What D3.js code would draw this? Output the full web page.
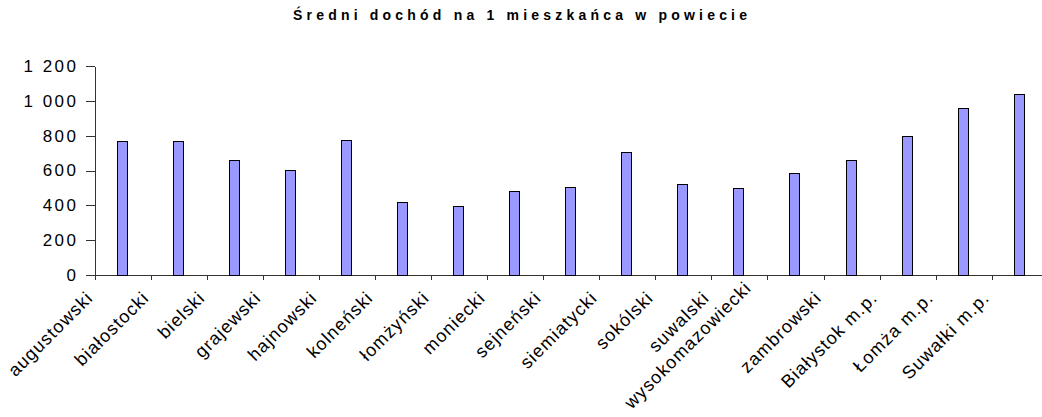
<!DOCTYPE html>
<meta charset="utf-8">
<style>
  body { margin: 0; background: #fff; }
  text { font-family: "Liberation Sans", Arial, sans-serif; fill: #000; }
  .bar { fill: #9999ff; stroke: #000; stroke-width: 1; }
  .axis path, .axis line { stroke: #333; shape-rendering: crispEdges; }
</style>
<svg width="1042" height="417"></svg>
<script src="https://cdnjs.cloudflare.com/ajax/libs/d3/7.8.5/d3.min.js"></script>
<script>

// dane
var powiaty = ["augustowski", "białostocki", "bielski", "grajewski", "hajnowski",
  "kolneński", "łomżyński", "moniecki", "sejneński", "siemiatycki", "sokólski",
  "suwalski", "wysokomazowiecki", "zambrowski", "Białystok m.p.", "Łomża m.p.", "Suwałki m.p."];
var dochod = [769, 769, 662, 601, 777, 421, 398, 484, 507, 708, 522, 501, 584, 662, 800, 960, 1039];
var yTicks = [0, 200, 400, 600, 800, 1000, 1200];
var tytul = "Średni dochód na 1 mieszkańca w powiecie";

var svg = d3.select("svg");

var axisX = 95, top0 = 66, base = 275, step = 56.04;

var x = d3.scaleBand()
    .domain(powiaty)
    .range([axisX, axisX + step * powiaty.length]);

var y = d3.scaleLinear()
    .domain([0, 1200])
    .range([base, top0]);

var pl = d3.formatLocale({decimal: ",", thousands: " ", grouping: [3], currency: ["", ""]});
var fmt = pl.format(",d");

// tytuł
svg.append("text")
    .attr("x", 520)
    .attr("y", 20)
    .attr("text-anchor", "middle")
    .attr("textLength", 454)
    .attr("lengthAdjust", "spacing")
    .style("font-size", "14px")
    .style("font-weight", "bold")
    .text(tytul);

// oś Y
var yAxis = svg.append("g")
    .attr("class", "axis")
    .attr("transform", "translate(" + axisX + ",0)")
    .call(d3.axisLeft(y).tickValues(yTicks).tickFormat(fmt).tickSize(9).tickPadding(10).tickSizeOuter(0));
yAxis.selectAll("text")
    .style("font-size", "17px")
    .style("letter-spacing", "2.5px")
    .attr("dx", "2.5px");

// oś X
var xAxis = svg.append("g").attr("class", "axis");
xAxis.append("path")
    .attr("d", "M" + x.range()[0] + "," + base + "H" + x.range()[1]);
xAxis.selectAll(".xt")
    .data(powiaty)
  .enter().append("line")
    .attr("class", "xt")
    .attr("x1", function(d) { return x(d) + 0.5; })
    .attr("x2", function(d) { return x(d) + 0.5; })
    .attr("y1", base)
    .attr("y2", base + 5);

// słupki
var bw = 10;
svg.selectAll(".bar")
    .data(dochod)
  .enter().append("rect")
    .attr("class", "bar")
    .attr("x", function(d, i) { return Math.round(x(powiaty[i]) + x.bandwidth() / 2 - bw / 2 - 1) + 0.5; })
    .attr("y", function(d) { return Math.round(y(d)) + 0.5; })
    .attr("width", bw)
    .attr("height", function(d) { return Math.round(base - y(d)); });

// etykiety kategorii
var H = +svg.attr("height");
svg.selectAll(".xl")
    .data(powiaty)
  .enter().append("text")
    .attr("class", "xl")
    .attr("text-anchor", "end")
    .style("font-size", "18px")
    .style("letter-spacing", "1.1px")
    .text(function(d) { return d; })
    .attr("transform", function(d) {
      var lx = x(d) - 1, ly = base + 24;
      // za długie etykiety podnosimy, tak jak Excel
      var over = ly + this.getComputedTextLength() * 0.7071 - H;
      if (over > 0) { lx -= 14; ly -= 10; }
      return "translate(" + lx + "," + ly + ") rotate(-45)";
    });

</script>
